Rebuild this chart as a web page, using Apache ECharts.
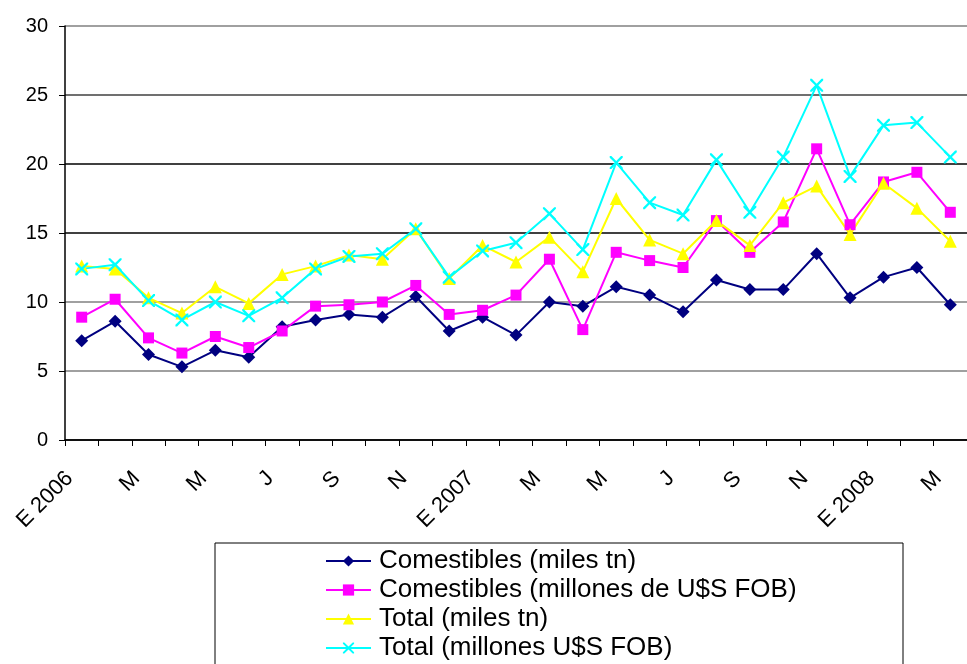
<!DOCTYPE html>
<html>
<head>
<meta charset="utf-8">
<script src="https://cdn.jsdelivr.net/npm/echarts@6/dist/echarts.min.js"></script>
<style>html,body{margin:0;padding:0;background:#fff;}#c{width:967px;height:664px;}</style>
</head>
<body>
<div id="c"></div>
<script>
var categories = ['E 2006','F','M','A','M','J','J','A','S','O','N','D',
  'E 2007','F','M','A','M','J','J','A','S','O','N','D',
  'E 2008','F','M'];
var comestiblesTn = [7.2,8.6,6.2,5.3,6.5,6.0,8.2,8.7,9.1,8.9,10.4,7.9,8.9,7.6,10.0,9.7,11.1,10.5,9.3,11.6,10.9,10.9,13.5,10.3,11.8,12.5,9.8];
var comestiblesUsd = [8.9,10.2,7.4,6.3,7.5,6.7,7.9,9.7,9.8,10.0,11.2,9.1,9.4,10.5,13.1,8.0,13.6,13.0,12.5,15.9,13.6,15.8,21.1,15.6,18.7,19.4,16.5];
var totalTn = [12.6,12.4,10.3,9.2,11.1,9.9,12.0,12.6,13.4,13.1,15.3,11.7,14.1,12.9,14.7,12.2,17.5,14.5,13.5,15.9,14.1,17.2,18.4,14.9,18.6,16.8,14.4];
var totalUsd = [12.4,12.7,10.1,8.7,10.0,9.0,10.3,12.4,13.3,13.5,15.3,11.8,13.7,14.3,16.4,13.8,20.1,17.2,16.3,20.3,16.5,20.5,25.7,19.1,22.8,23.0,20.5];
var seriesNames = ['Comestibles (miles tn)','Comestibles (millones de U$S FOB)','Total (miles tn)','Total (millones U$S FOB)'];
var yTicks = [0,5,10,15,20,25,30];

var xPath = 'path://M0,0 L2.5,0 L10,7.5 L17.5,0 L20,0 L20,2.5 L12.5,10 L20,17.5 L20,20 L17.5,20 L10,12.5 L2.5,20 L0,20 L0,17.5 L7.5,10 L0,2.5 Z';

var chart = echarts.init(document.getElementById('c'));
function mk(name, data, color, symbol, size) {
  return {
    name: name, type: 'line', data: data, symbol: symbol, symbolSize: size,
    showAllSymbol: true,
    itemStyle: {color: color}, lineStyle: {color: color, width: 2},
    emphasis: {disabled: true}, animation: false
  };
}
chart.setOption({
  animation: false,
  backgroundColor: '#fff',
  grid: {left: 65, top: 26, width: 915, height: 414},
  xAxis: {
    type: 'category', data: categories, boundaryGap: true,
    axisLine: {lineStyle: {color: '#000', width: 1.5}},
    axisTick: {show: true, interval: 0, length: 6, lineStyle: {color: '#000'}},
    axisLabel: {interval: 1, rotate: 45, fontSize: 22, color: '#000', fontFamily: 'Liberation Sans, Arial', margin: 23, padding: [0, 17, 0, 0]}
  },
  yAxis: {
    type: 'value', min: yTicks[0], max: yTicks[yTicks.length - 1], interval: 5,
    axisLine: {show: true, lineStyle: {color: '#000', width: 1.5}},
    axisTick: {show: true, length: 6, lineStyle: {color: '#000'}},
    axisLabel: {fontSize: 20, color: '#000', fontFamily: 'Liberation Sans, Arial', margin: 17},
    splitLine: {show: true, lineStyle: {color: ['#000','#808080','#808080','#000','#000','#404040','#808080'], width: 1.5}}
  },
  legend: {
    orient: 'vertical', left: 325, top: 548, height: 140, padding: 0,
    itemWidth: 45, itemHeight: 14, itemGap: 3,
    textStyle: {fontSize: 26, lineHeight: 26, color: '#000', fontFamily: 'Liberation Sans, Arial', padding: [0,0,0,3]},
    data: seriesNames
  },
  graphic: [{
    type: 'rect', shape: {x: 215, y: 543, width: 688, height: 140},
    style: {fill: 'none', stroke: '#000', lineWidth: 1}, z: -1
  }],
  series: [
    mk(seriesNames[0], comestiblesTn, '#000080', 'diamond', 13),
    mk(seriesNames[1], comestiblesUsd, '#ff00ff', 'rect', 11),
    mk(seriesNames[2], totalTn, '#ffff00', 'triangle', 13),
    mk(seriesNames[3], totalUsd, '#00ffff', xPath, 13)
  ]
});
</script>
</body>
</html>
